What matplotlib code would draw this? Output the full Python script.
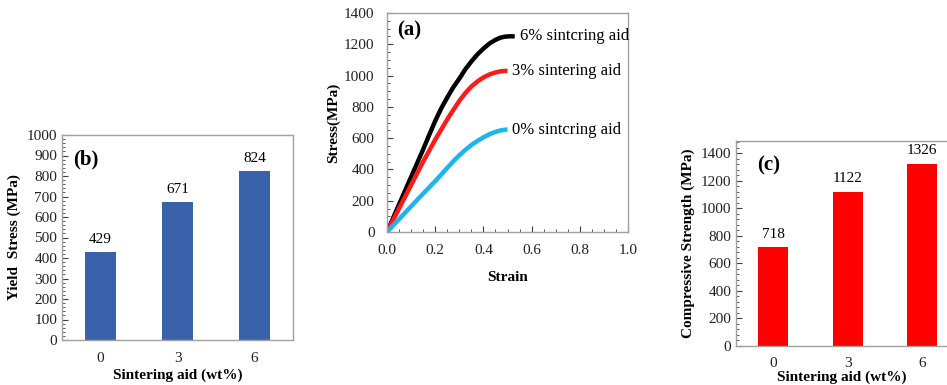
import matplotlib
matplotlib.use("Agg")
import matplotlib.pyplot as plt
from matplotlib.ticker import MultipleLocator
import numpy as np

plt.rcParams['font.family'] = ['Liberation Serif', 'DejaVu Serif']

# ---- data ----
categories = ['0', '3', '6']
yield_stress = [429, 671, 824]
compressive_strength = [718, 1122, 1326]

strain_6 = [0.0, 0.025, 0.05, 0.075, 0.1, 0.125, 0.15, 0.175, 0.2, 0.225, 0.25, 0.275, 0.3,
            0.325, 0.35, 0.375, 0.4, 0.425, 0.45, 0.47, 0.49, 0.51, 0.53]
stress_6 = [0, 88, 176, 264, 352, 440, 528, 620, 710, 790, 860, 925, 980,
            1040, 1090, 1135, 1172, 1205, 1228, 1242, 1249, 1251, 1251]
strain_3 = [0.0, 0.025, 0.05, 0.075, 0.1, 0.125, 0.15, 0.175, 0.2, 0.225, 0.25, 0.275, 0.3,
            0.325, 0.35, 0.375, 0.4, 0.425, 0.45, 0.47, 0.49, 0.5]
stress_3 = [0, 75, 150, 225, 300, 375, 450, 520, 590, 655, 720, 780, 838,
            888, 930, 962, 988, 1007, 1020, 1027, 1030, 1030]
strain_0 = [0.0, 0.025, 0.05, 0.075, 0.1, 0.125, 0.15, 0.175, 0.2, 0.225, 0.25, 0.275, 0.3,
            0.325, 0.35, 0.375, 0.4, 0.425, 0.45, 0.47, 0.49, 0.5]
stress_0 = [0, 41, 82, 123, 164, 205, 245, 285, 325, 367, 410, 452, 490,
            525, 556, 582, 605, 625, 640, 649, 654, 655]
curve_labels = ['6% sintcring aid', '3% sintering aid', '0% sintcring aid']

W, H = 947, 385
fig = plt.figure(figsize=(W / 100, H / 100), dpi=100)

def ax_px(l, r, t, b):
    return fig.add_axes([l / W, 1 - b / H, (r - l) / W, (b - t) / H])

frame_col = '#a0a0a0'
tick_col = '#404040'

def style(ax):
    for s in ax.spines.values():
        s.set_color(frame_col)
        s.set_linewidth(1.0)
    ax.tick_params(which='both', direction='in', color=tick_col, labelsize=11,
                   labelcolor='#222222')
    ax.tick_params(which='major', length=4)
    ax.tick_params(which='minor', length=2.5)

# ---- (b) Yield stress ----
axb = ax_px(62, 293, 135, 340)
x = np.arange(len(categories))
axb.bar(x, yield_stress, width=0.4, color='#3a62ab')
for xi, v in zip(x, yield_stress):
    axb.text(xi, v + 30, str(v), ha='center', va='bottom', fontsize=11)
axb.set_xlim(-0.5, 2.5)
axb.set_ylim(0, 1000)
axb.set_xticks(x)
axb.set_xticklabels(categories)
axb.yaxis.set_major_locator(MultipleLocator(100))
axb.yaxis.set_minor_locator(MultipleLocator(20))
style(axb)
axb.tick_params(axis='x', which='both', length=0, pad=9)
axb.set_ylabel('Yield  Stress (MPa)', fontweight='bold', fontsize=11, labelpad=4)
axb.set_xlabel('Sintering aid (wt%)', fontweight='bold', fontsize=11, labelpad=2)
axb.text(0.05, 0.88, '(b)', transform=axb.transAxes, fontweight='bold', fontsize=15,
         va='center')

# ---- (a) stress-strain ----
axa = ax_px(387, 628, 13, 232)
axa.plot(strain_6, stress_6, color='black', lw=3.2, solid_capstyle='butt')
axa.plot(strain_3, stress_3, color='#ff1a1a', lw=3.2, solid_capstyle='butt')
axa.plot(strain_0, stress_0, color='#1eb4ef', lw=3.2, solid_capstyle='butt')
for xs, ys, lab in zip([strain_6, strain_3, strain_0], [stress_6, stress_3, stress_0], curve_labels):
    axa.text(xs[-1] + 0.02, ys[-1], lab, ha='left', va='center', fontsize=12)
axa.set_xlim(0, 1.0)
axa.set_ylim(0, 1400)
axa.xaxis.set_minor_locator(MultipleLocator(0.05))
axa.yaxis.set_major_locator(MultipleLocator(200))
axa.yaxis.set_minor_locator(MultipleLocator(50))
xt = np.arange(0, 1.01, 0.2)
axa.set_xticks(xt)
axa.set_xticklabels([f'{v:.1f}' for v in xt])
style(axa)
axa.tick_params(axis='x', pad=9)
axa.tick_params(axis='y', pad=9)
axa.set_xlabel('Strain', fontweight='bold', fontsize=11, labelpad=10)
axa.set_ylabel('Stress(MPa)', fontweight='bold', fontsize=11, labelpad=3)
axa.text(0.04, 0.92, '(a)', transform=axa.transAxes, fontweight='bold', fontsize=15,
         va='center')

# ---- (c) compressive strength ----
axc = ax_px(736, 947, 141, 346)
axc.bar(x, compressive_strength, width=0.4, color='#ff0000')
for xi, v in zip(x, compressive_strength):
    axc.text(xi, v + 45, str(v), ha='center', va='bottom', fontsize=11)
axc.set_xlim(-0.5, 2.33)
axc.set_ylim(0, 1490)
axc.set_xticks(x)
axc.set_xticklabels(categories)
axc.yaxis.set_major_locator(MultipleLocator(200))
axc.yaxis.set_minor_locator(MultipleLocator(40))
style(axc)
axc.spines['right'].set_visible(False)
axc.tick_params(axis='x', which='both', length=0, pad=8)
axc.set_ylabel('Compressive Strength (MPa)', fontweight='bold', fontsize=11, labelpad=4)
axc.set_xlabel('Sintering aid (wt%)', fontweight='bold', fontsize=11, labelpad=0)
axc.text(0.1, 0.88, '(c)', transform=axc.transAxes, fontweight='bold', fontsize=15,
         va='center')

fig.savefig('out.png', dpi=100)
